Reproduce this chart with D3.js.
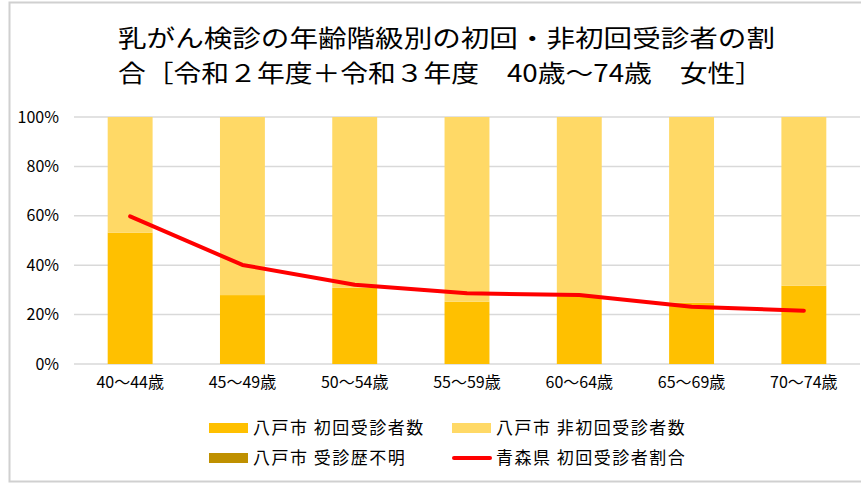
<!DOCTYPE html>
<html>
<head>
<meta charset="utf-8">
<script src="https://cdn.jsdelivr.net/npm/d3@7"></script>
<style>
  html, body { margin: 0; padding: 0; background: #fff; }
  svg { display: block; font-family: "Noto Sans CJK JP", "Noto Sans", sans-serif; }
</style>
</head>
<body>
<svg id="chart" width="861" height="483"></svg>
<script>
// 年齢階級
const ageGroups = ["40～44歳", "45～49歳", "50～54歳", "55～59歳", "60～64歳", "65～69歳", "70～74歳"];
// 八戸市 初回受診者の割合 (%)
const hachinoheFirst = [53.2, 27.9, 30.9, 25.2, 27.5, 24.8, 31.7];
// 八戸市 受診歴不明 (%)
const hachinoheUnknown = [0, 0, 0, 0, 0, 0, 0];
// 八戸市 非初回受診者の割合 (%)
const hachinoheRepeat = hachinoheFirst.map((v, i) => 100 - v - hachinoheUnknown[i]);
// 青森県 初回受診者割合 (%)
const aomoriFirstRate = [59.8, 40.1, 32.1, 28.6, 27.9, 23.2, 21.6];
const yTicks = [0, 20, 40, 60, 80, 100];

const titleLines = [
  "乳がん検診の年齢階級別の初回・非初回受診者の割",
  "合［令和２年度＋令和３年度　40歳～74歳　女性］"
];

const seriesDefs = [
  { key: "first", name: "八戸市 初回受診者数", color: "#FFC000", values: hachinoheFirst },
  { key: "repeat", name: "八戸市 非初回受診者数", color: "#FFD966", values: hachinoheRepeat },
  { key: "unknown", name: "八戸市 受診歴不明", color: "#BF9000", values: hachinoheUnknown }
];
const lineName = "青森県 初回受診者割合";

const svg = d3.select("#chart");
const W = 861, H = 483;
const plot = { left: 74, right: 860, top: 117, bottom: 364 };

// chart frame
svg.append("rect")
  .attr("x", 9.5).attr("y", 2.5)
  .attr("width", W - 8).attr("height", 479)
  .attr("fill", "#fff").attr("stroke", "#d0d0d0").attr("stroke-width", 2);

// title (two lines in one text element)
const title = svg.append("text")
  .attr("font-size", 24)
  .attr("fill", "#000");
titleLines.forEach((t, i) => {
  title.append("tspan")
    .attr("x", 118).attr("y", 47 + i * 35)
    .attr("textLength", i === 0 ? 657 : 645)
    .attr("lengthAdjust", "spacingAndGlyphs")
    .text(t);
});

const x = d3.scaleBand().domain(ageGroups).range([plot.left, plot.right]).paddingInner(0.6).paddingOuter(0.3);
const y = d3.scaleLinear().domain([0, 100]).range([plot.bottom, plot.top]);

// gridlines
svg.append("g")
  .selectAll("line").data(yTicks).join("line")
  .attr("x1", plot.left).attr("x2", plot.right)
  .attr("y1", d => y(d)).attr("y2", d => y(d))
  .attr("stroke", "#d9d9d9").attr("stroke-width", 1.5);

// y axis labels
const yAxis = d3.axisLeft(y).tickValues(yTicks).tickFormat(d => d + "%").tickSize(0).tickPadding(0);
svg.append("g")
  .attr("transform", `translate(${plot.left - 15},0)`)
  .call(yAxis)
  .call(g => g.select(".domain").remove())
  .call(g => g.selectAll("text").attr("font-size", 16).attr("fill", "#000")
    .attr("font-family", "'Liberation Sans Narrow', 'Noto Sans CJK JP', sans-serif"));

// stacked bars
const rows = ageGroups.map((a, i) => ({ age: a, first: hachinoheFirst[i], repeat: hachinoheRepeat[i], unknown: hachinoheUnknown[i] }));
const stack = d3.stack().keys(["first", "repeat", "unknown"])(rows);
svg.append("g")
  .selectAll("g").data(stack).join("g")
  .attr("fill", (d, i) => seriesDefs[i].color)
  .selectAll("rect").data(d => d).join("rect")
  .attr("x", d => x(d.data.age))
  .attr("width", x.bandwidth())
  .attr("y", d => y(d[1]))
  .attr("height", d => y(d[0]) - y(d[1]));

// x axis labels
const xAxis = d3.axisBottom(x).tickSize(0).tickPadding(0);
svg.append("g")
  .attr("transform", `translate(0,${plot.bottom + 13})`)
  .call(xAxis)
  .call(g => g.select(".domain").remove())
  .call(g => g.selectAll("text").attr("font-size", 16).attr("fill", "#000")
    .attr("font-family", "'Noto Sans CJK JP', sans-serif"));

// 青森県 line
const line = d3.line()
  .x((d, i) => x(ageGroups[i]) + x.bandwidth() / 2)
  .y(d => y(d));
svg.append("path")
  .datum(aomoriFirstRate)
  .attr("d", line)
  .attr("fill", "none")
  .attr("stroke", "#FF0000")
  .attr("stroke-width", 4)
  .attr("stroke-linejoin", "round")
  .attr("stroke-linecap", "round");

// legend
const legendItems = [
  { name: seriesDefs[0].name, color: seriesDefs[0].color, type: "rect", col: 0, row: 0 },
  { name: seriesDefs[1].name, color: seriesDefs[1].color, type: "rect", col: 1, row: 0 },
  { name: seriesDefs[2].name, color: seriesDefs[2].color, type: "rect", col: 0, row: 1 },
  { name: lineName, color: "#FF0000", type: "line", col: 1, row: 1 }
];
const lg = svg.append("g").selectAll("g").data(legendItems).join("g")
  .attr("transform", d => `translate(${209 + d.col * 243},${428 + d.row * 30})`);
lg.filter(d => d.type === "rect").append("rect")
  .attr("x", 0).attr("y", -5).attr("width", 39).attr("height", 10)
  .attr("fill", d => d.color);
lg.filter(d => d.type === "line").append("line")
  .attr("x1", 2).attr("x2", 38).attr("y1", 0).attr("y2", 0)
  .attr("stroke", d => d.color).attr("stroke-width", 4).attr("stroke-linecap", "round");
lg.append("text")
  .attr("x", 44).attr("y", 0).attr("dy", "0.35em")
  .attr("font-size", 17).attr("letter-spacing", 1.5).attr("fill", "#000")
  .text(d => d.name);
</script>
</body>
</html>
